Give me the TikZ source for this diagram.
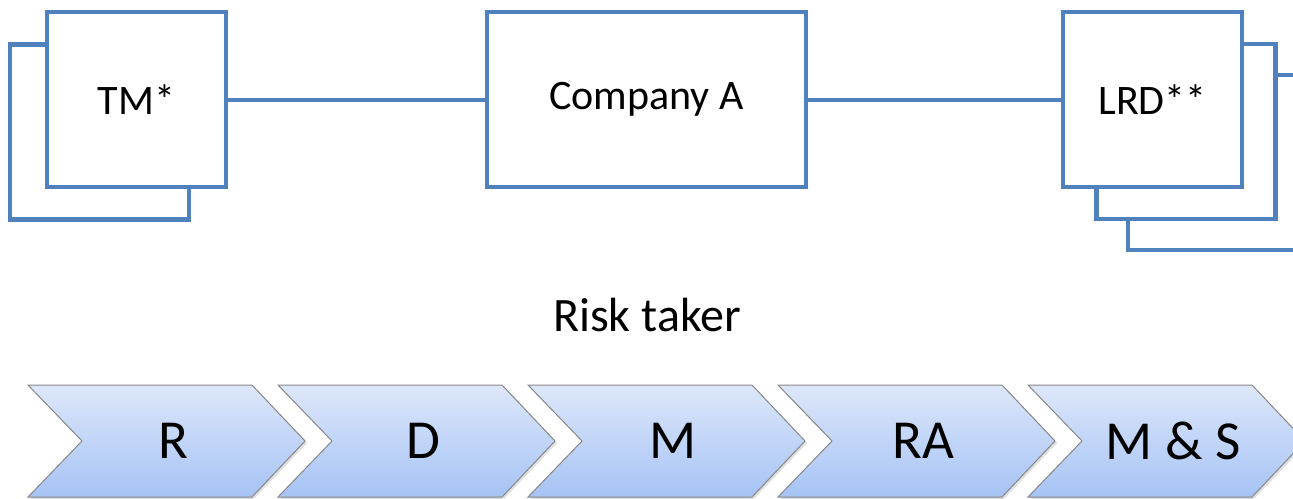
\documentclass[tikz,border=0pt]{standalone}
\usepackage{fontspec}
\setmainfont{Carlito}
\usetikzlibrary{positioning,shadows}
\definecolor{boxblue}{RGB}{79,129,189}
\definecolor{chevtop}{RGB}{221,231,250}
\definecolor{chevbot}{RGB}{166,195,245}
\definecolor{chevedge}{RGB}{135,135,135}

\begin{document}
\begin{tikzpicture}[x=1pt,y=-1pt,
  party/.style={draw=boxblue,line width=4.5pt,fill=white,inner sep=0pt,
    minimum width=179pt,minimum height=175pt,font=\fontsize{42}{50}\selectfont},
  firm/.style={party,minimum width=319pt},
  link/.style={draw=boxblue,line width=4pt},
  stagefill/.style={draw=chevedge,line width=1pt,top color=chevtop,bottom color=chevbot,
    drop shadow={shadow xshift=2pt,shadow yshift=-2pt,opacity=0.25}},
  stage/.style={font=\fontsize{55}{64}\selectfont}]
\useasboundingbox (0,0) rectangle (1293,498);

% parties
\node[party] (tm back) at (99.5,132) {};
\node[party] (tm) at (136.5,99.5) {TM*};
\node[firm] (coa) at (646.5,99.5) {Company A};
\node[party] (lrd back2) at (1217.5,162.5) {};
\node[party] (lrd back1) at (1186,131.5) {};
\node[party] (lrd) at (1152.5,99.5) {LRD**};

\draw[link] (tm) -- (coa);
\draw[link] (coa) -- (lrd);

\node[font=\fontsize{48}{56}\selectfont] (risk) at (647,315) {Risk taker};

% value chain
\foreach \i/\lab/\nm in {0/R/r,1/D/d,2/M/m,3/RA/ra,4/M \& S/ms} {
  \pgfmathsetmacro\xl{28+250*\i}
  \path[stagefill] (\xl,385) -- ++(224,0) -- ++(53,56) -- ++(-53,56)
    -- ++(-224,0) -- ++(54,-56) -- cycle;
  \node[stage] (\nm) at (\xl+145,441) {\lab};
}
\end{tikzpicture}
\end{document}
